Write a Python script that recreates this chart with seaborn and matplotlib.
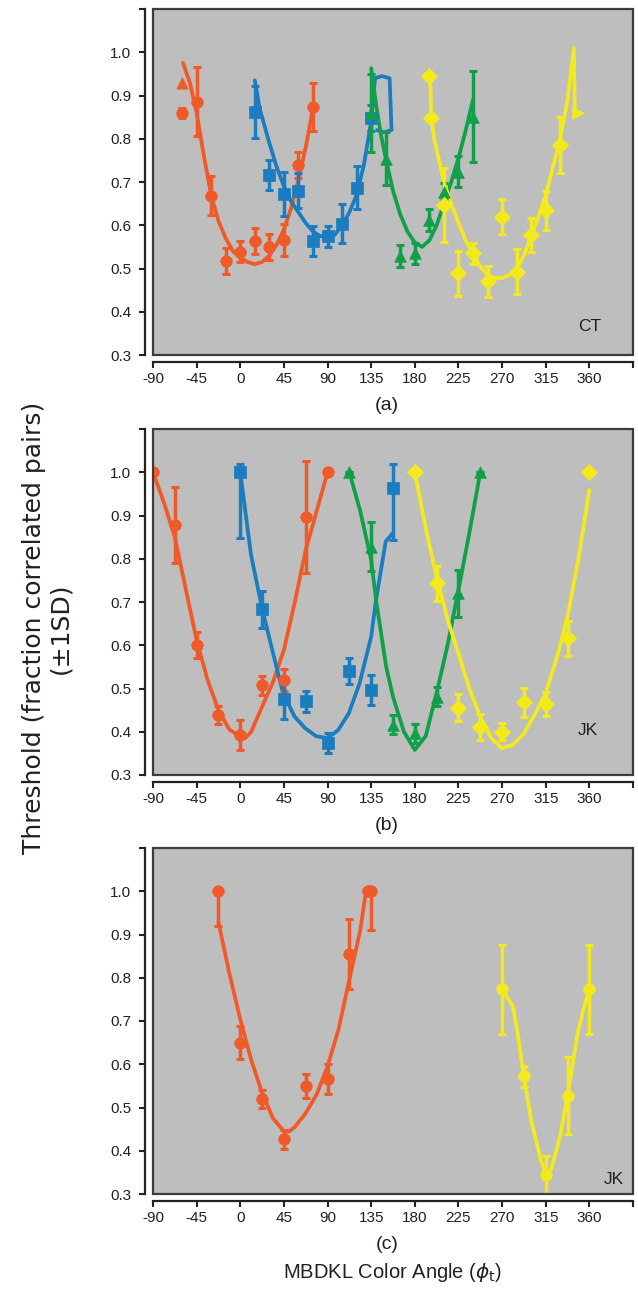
import matplotlib
matplotlib.use("Agg")
import matplotlib.pyplot as plt
from matplotlib.patches import Rectangle
import seaborn as sns

sns.set_style("ticks")
plt.rcParams['font.family'] = ['Liberation Sans', 'DejaVu Sans']
plt.rcParams['mathtext.fontset'] = 'dejavusans'

RED = '#F05A28'
BLUE = '#1B7CC0'
GREEN = '#10A04A'
YEL = '#F2EA1C'

# ---------------- Panel (a) : CT ----------------
a_red_x = [-60, -45, -30, -15, 0, 15, 30, 45, 60, 75]
a_red_y = [0.86, 0.886, 0.668, 0.517, 0.539, 0.564, 0.55, 0.566, 0.74, 0.874]
a_red_e = [0.012, 0.08, 0.045, 0.03, 0.025, 0.03, 0.03, 0.037, 0.03, 0.055]
a_red_tri_x = [-60]
a_red_tri_y = [0.928]
a_red_fit_x = [-59, -52, -45, -37.5, -30, -22.5, -15, -7.5, 0, 7.5, 15, 22.5, 30, 37.5, 45, 52.5, 60, 67.5, 75]
a_red_fit_y = [0.975, 0.93, 0.86, 0.76, 0.67, 0.61, 0.57, 0.54, 0.525, 0.515, 0.51, 0.515, 0.53, 0.555, 0.59, 0.64, 0.705, 0.78, 0.87]

a_blu_x = [15, 30, 45, 60, 75, 90, 105, 120, 135]
a_blu_y = [0.862, 0.716, 0.672, 0.68, 0.564, 0.574, 0.603, 0.687, 0.847]
a_blu_e = [0.06, 0.035, 0.05, 0.04, 0.035, 0.025, 0.045, 0.05, 0.03]
a_blu_fit_x = [15, 20, 30, 37.5, 45, 52.5, 60, 67.5, 75, 82.5, 90, 97.5, 105, 112.5, 120, 127.5, 135, 139, 146, 154, 156, 148, 141]
a_blu_fit_y = [0.935, 0.87, 0.79, 0.735, 0.69, 0.655, 0.63, 0.605, 0.585, 0.575, 0.572, 0.578, 0.60, 0.63, 0.67, 0.74, 0.84, 0.94, 0.945, 0.94, 0.82, 0.815, 0.82]

a_grn_x = [135, 150, 165, 180, 195, 210, 225, 240]
a_grn_y = [0.86, 0.754, 0.529, 0.535, 0.612, 0.678, 0.724, 0.851]
a_grn_e = [0.09, 0.062, 0.025, 0.025, 0.025, 0.02, 0.035, 0.105]
a_grn_fit_x = [135, 140, 145, 150, 157.5, 165, 172.5, 180, 187.5, 195, 202.5, 210, 217.5, 225, 232.5, 240]
a_grn_fit_y = [0.963, 0.88, 0.81, 0.755, 0.68, 0.625, 0.585, 0.56, 0.55, 0.565, 0.60, 0.65, 0.70, 0.755, 0.82, 0.89]

a_yel_x = [195, 196.5, 210, 225, 240, 255, 270, 285, 300, 315, 330]
a_yel_y = [0.945, 0.847, 0.647, 0.489, 0.535, 0.47, 0.62, 0.493, 0.577, 0.635, 0.785]
a_yel_e = [0.0, 0.0, 0.085, 0.052, 0.025, 0.035, 0.04, 0.052, 0.04, 0.045, 0.065]
a_yel_end_x = [348]
a_yel_end_y = [0.86]
a_yel_fit_x = [196, 197, 200, 205, 210, 217.5, 225, 232.5, 240, 247.5, 255, 262.5, 270, 277.5, 285, 292.5, 300, 307.5, 315, 322.5, 330, 337.5, 344, 345, 347]
a_yel_fit_y = [0.93, 0.85, 0.80, 0.75, 0.70, 0.65, 0.605, 0.565, 0.535, 0.505, 0.485, 0.478, 0.478, 0.485, 0.50, 0.53, 0.575, 0.62, 0.67, 0.735, 0.80, 0.89, 1.01, 0.86, 0.86]

# ---------------- Panel (b) : JK ----------------
b_red_x = [-90, -67.5, -45, -22.5, 0, 22.5, 45, 67.5, 90]
b_red_y = [1.0, 0.878, 0.60, 0.439, 0.392, 0.508, 0.52, 0.897, 1.0]
b_red_e = [0.0, 0.088, 0.03, 0.02, 0.035, 0.022, 0.025, 0.13, 0.0]
b_red_fit_x = [-90, -78.75, -67.5, -56.25, -45, -33.75, -22.5, -11.25, 0, 5, 11.25, 22.5, 33.75, 45, 56.25, 67.5, 78.75, 90]
b_red_fit_y = [1.0, 0.93, 0.85, 0.73, 0.612, 0.52, 0.45, 0.405, 0.389, 0.385, 0.40, 0.458, 0.515, 0.589, 0.70, 0.82, 0.91, 1.0]

b_blu_x = [0, 22.5, 45, 67.5, 90, 112.5, 135, 157.5]
b_blu_y = [1.0, 0.683, 0.475, 0.47, 0.374, 0.54, 0.497, 0.964]
b_blu_e = [0.0, 0.043, 0.045, 0.025, 0.022, 0.03, 0.035, 0.0]
b_blu_lo = [0.152, 0.0, 0.0, 0.0, 0.0, 0.0, 0.0, 0.121]
b_blu_hi = [0.02, 0.0, 0.0, 0.0, 0.0, 0.0, 0.0, 0.056]
b_blu_fit_x = [0, 11, 22, 34, 44, 56, 67, 78, 90, 101, 112, 123, 135, 140, 150, 157.5]
b_blu_fit_y = [1.0, 0.81, 0.69, 0.58, 0.49, 0.435, 0.408, 0.39, 0.385, 0.404, 0.443, 0.512, 0.62, 0.705, 0.84, 0.86]

b_grn_x = [112.5, 135, 157.5, 180, 202.5, 225, 247.5]
b_grn_y = [1.0, 0.828, 0.416, 0.396, 0.481, 0.72, 1.0]
b_grn_e = [0.0, 0.057, 0.022, 0.022, 0.022, 0.055, 0.0]
b_grn_fit_x = [112.5, 123.75, 135, 140, 150.5, 157.5, 168.75, 180, 191.25, 202.5, 213.75, 225, 236.25, 247.5]
b_grn_fit_y = [1.0, 0.91, 0.797, 0.705, 0.55, 0.481, 0.40, 0.358, 0.39, 0.49, 0.60, 0.728, 0.86, 1.0]

b_yel_x = [180, 202.5, 225, 247.5, 270, 292.5, 315, 337.5, 360]
b_yel_y = [1.0, 0.743, 0.456, 0.412, 0.40, 0.468, 0.464, 0.616, 1.0]
b_yel_e = [0.0, 0.04, 0.031, 0.03, 0.02, 0.033, 0.027, 0.04, 0.0]
b_yel_fit_x = [180, 191.25, 202.5, 213.75, 225, 236.25, 247.5, 258.75, 270, 281.25, 292.5, 303.75, 315, 326.25, 337.5, 348.75, 360]
b_yel_fit_y = [1.0, 0.87, 0.758, 0.66, 0.581, 0.50, 0.435, 0.385, 0.362, 0.37, 0.396, 0.44, 0.489, 0.57, 0.666, 0.80, 0.959]

# ---------------- Panel (c) : JK ----------------
c_red_x = [-22.5, 0, 22.5, 45, 67.5, 90, 112.5, 132, 135]
c_red_y = [1.0, 0.65, 0.52, 0.427, 0.55, 0.566, 0.855, 1.0, 1.0]
c_red_e = [0.0, 0.038, 0.02, 0.022, 0.028, 0.035, 0.08, 0.0, 0.0]
c_red_lo = [0.08, 0.0, 0.0, 0.0, 0.0, 0.0, 0.0, 0.0, 0.09]
c_red_fit_x = [-22.5, -11.25, 0, 11.25, 22.5, 33.75, 45, 50, 56.25, 67.5, 78.75, 90, 101.25, 112.5, 123.75, 130, 135]
c_red_fit_y = [0.928, 0.81, 0.704, 0.61, 0.534, 0.475, 0.445, 0.444, 0.455, 0.487, 0.53, 0.595, 0.68, 0.796, 0.91, 1.005, 1.0]

c_yel_x = [270, 292.5, 315, 337.5, 360]
c_yel_y = [0.773, 0.572, 0.344, 0.527, 0.773]
c_yel_e = [0.102, 0.025, 0.043, 0.089, 0.102]
c_yel_fit_x = [270, 281, 286, 292.5, 300, 310, 315, 320.5, 329, 337.5, 348, 355, 360]
c_yel_fit_y = [0.773, 0.735, 0.673, 0.572, 0.47, 0.379, 0.344, 0.356, 0.425, 0.527, 0.673, 0.735, 0.773]

x_ticks = [-90, -45, 0, 45, 90, 135, 180, 225, 270, 315, 360, 405]
x_labels = ['-90', '-45', '0', '45', '90', '135', '180', '225', '270', '315', '360', '']
y_ticks = [0.3, 0.4, 0.5, 0.6, 0.7, 0.8, 0.9, 1.0, 1.1]
y_labels = ['0.3', '0.4', '0.5', '0.6', '0.7', '0.8', '0.9', '1.0', '']
panel_names = ['(a)', '(b)', '(c)']
subject_tags = ['CT', 'JK', 'JK']

TXT = '#231F20'
fig = plt.figure(figsize=(6.38, 12.92), dpi=100)
L = 153 / 638
W = 480 / 638
H = 346 / 1292
bottoms = [1 - 355 / 1292, 1 - 775 / 1292, 1 - 1194 / 1292]
tag_pos = [(0.91, 0.082), (0.906, 0.13), (0.96, 0.042)]
axes = [fig.add_axes([L, b, W, H]) for b in bottoms]


def fit(ax, x, y, c):
    sns.lineplot(x=x, y=y, ax=ax, color=c, lw=2.7, sort=False, estimator=None, zorder=3)


def pts(ax, x, y, e, c, m, lo=None, hi=None):
    if lo is not None:
        err = [[max(a, b) for a, b in zip(e, lo)], [max(a, b) for a, b in zip(e, hi if hi else e)]]
    else:
        err = e
    ax.errorbar(x, y, yerr=err, fmt='none', ecolor=c, elinewidth=2.5, capsize=2.6, capthick=2.2, zorder=4)
    sns.scatterplot(x=x, y=y, ax=ax, color=c, marker=m, s=70, edgecolor=c, linewidth=0.5, zorder=5)


for i, ax in enumerate(axes):
    ax.set_xlim(-90, 405)
    ax.set_ylim(0.3, 1.1)
    ax.set_facecolor('#BEBEBE')
    for s in ['top', 'right']:
        ax.spines[s].set_visible(False)
    ax.spines['left'].set_position(('outward', 6))
    ax.spines['bottom'].set_position(('outward', 5))
    for s in ['left', 'bottom']:
        ax.spines[s].set_color('#222222')
        ax.spines[s].set_linewidth(1.6)
    ax.add_patch(Rectangle((0, 0), 1, 1, transform=ax.transAxes, fill=False,
                           ec='#3C3C3C', lw=1.6, clip_on=False, zorder=10))
    ax.set_xticks(x_ticks)
    ax.set_xticklabels(x_labels)
    ax.set_yticks(y_ticks)
    ax.set_yticklabels(y_labels)
    ax.tick_params(axis='both', direction='out', length=4.5, width=1.5,
                   color='#222222', labelsize=11, labelcolor=TXT)
    ax.tick_params(axis='y', pad=5)
    ax.tick_params(axis='x', pad=3)
    ax.set_xlabel('')
    ax.set_ylabel('')
    ax.text(tag_pos[i][0], tag_pos[i][1], subject_tags[i], transform=ax.transAxes,
            ha='center', va='center', fontsize=12.5, color=TXT, zorder=11)
    ax.text(0.488, -0.145, panel_names[i], transform=ax.transAxes,
            ha='center', va='center', fontsize=14, color=TXT)

ax = axes[0]
fit(ax, a_red_fit_x, a_red_fit_y, RED)
fit(ax, a_blu_fit_x, a_blu_fit_y, BLUE)
fit(ax, a_grn_fit_x, a_grn_fit_y, GREEN)
fit(ax, a_yel_fit_x, a_yel_fit_y, YEL)
pts(ax, a_red_x, a_red_y, a_red_e, RED, 'o')
sns.scatterplot(x=a_red_tri_x, y=a_red_tri_y, ax=ax, color=RED, marker='^', s=65, edgecolor=RED, zorder=5)
pts(ax, a_blu_x, a_blu_y, a_blu_e, BLUE, 's')
pts(ax, a_grn_x, a_grn_y, a_grn_e, GREEN, '^')
pts(ax, a_yel_x, a_yel_y, a_yel_e, YEL, 'D')
sns.scatterplot(x=a_yel_end_x, y=a_yel_end_y, ax=ax, color=YEL, marker='>', s=70, edgecolor=YEL, zorder=5)

ax = axes[1]
fit(ax, b_red_fit_x, b_red_fit_y, RED)
fit(ax, b_blu_fit_x, b_blu_fit_y, BLUE)
fit(ax, b_grn_fit_x, b_grn_fit_y, GREEN)
fit(ax, b_yel_fit_x, b_yel_fit_y, YEL)
pts(ax, b_red_x, b_red_y, b_red_e, RED, 'o')
pts(ax, b_blu_x, b_blu_y, b_blu_e, BLUE, 's', lo=b_blu_lo, hi=b_blu_hi)
pts(ax, b_grn_x, b_grn_y, b_grn_e, GREEN, '^')
pts(ax, b_yel_x, b_yel_y, b_yel_e, YEL, 'D')

ax = axes[2]
fit(ax, c_red_fit_x, c_red_fit_y, RED)
fit(ax, c_yel_fit_x, c_yel_fit_y, YEL)
pts(ax, c_red_x, c_red_y, c_red_e, RED, 'o', lo=c_red_lo, hi=c_red_e)
pts(ax, c_yel_x, c_yel_y, c_yel_e, YEL, 'o')

fig.text(47 / 638, 1 - 628 / 1292, 'Threshold (fraction correlated pairs)\n(±1SD)',
         rotation=90, ha='center', va='center', multialignment='center',
         fontsize=18, color=TXT, linespacing=1.15, family=['DejaVu Sans'])
fig.text(393 / 638, 1 - 1272 / 1292, r'MBDKL Color Angle ($\phi_\mathrm{t}$)',
         ha='center', va='center', fontsize=14.5, color=TXT)

fig.savefig('out.png', dpi=100)
